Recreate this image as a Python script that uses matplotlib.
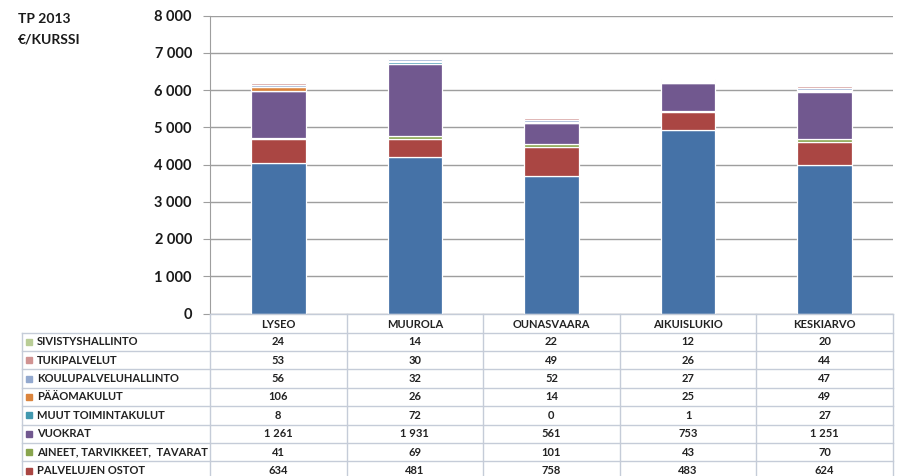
import matplotlib
matplotlib.use("Agg")
import matplotlib.pyplot as plt
import matplotlib.transforms as mtransforms
from matplotlib.patches import Rectangle
import numpy as np

plt.rcParams['font.family'] = ['Lato', 'DejaVu Sans']

categories = ["LYSEO", "MUUROLA", "OUNASVAARA", "AIKUISLUKIO", "KESKIARVO"]

# series listed bottom of stack first
henkilosto = [4040, 4210, 3700, 4920, 3990]
palvelujen_ostot = [634, 481, 758, 483, 624]
aineet = [41, 69, 101, 43, 70]
vuokrat = [1261, 1931, 561, 753, 1251]
muut_toiminta = [8, 72, 0, 1, 27]
paaomakulut = [106, 26, 14, 25, 49]
koulupalvelu = [56, 32, 52, 27, 47]
tukipalvelut = [53, 30, 49, 26, 44]
sivistys = [24, 14, 22, 12, 20]

series_names = ["HENKILÖSTÖKULUT", "PALVELUJEN OSTOT", "AINEET, TARVIKKEET,  TAVARAT",
                "VUOKRAT", "MUUT TOIMINTAKULUT", "PÄÄOMAKULUT",
                "KOULUPALVELUHALLINTO", "TUKIPALVELUT", "SIVISTYSHALLINTO"]
series_values = [henkilosto, palvelujen_ostot, aineet, vuokrat, muut_toiminta,
                 paaomakulut, koulupalvelu, tukipalvelut, sivistys]
series_colors = ["#4572A7", "#AA4643", "#89A54E", "#71588F", "#4198AF",
                 "#DB843D", "#93A9CF", "#D19392", "#B9CD96"]

yticks = [0, 1000, 2000, 3000, 4000, 5000, 6000, 7000, 8000]
ytick_labels = ["0", "1 000", "2 000", "3 000", "4 000", "5 000", "6 000", "7 000", "8 000"]

W, H = 898, 476
fig = plt.figure(figsize=(W / 100, H / 100), dpi=100)
fig.patch.set_facecolor("white")

ax_left, ax_right = 210, 893
ax_top, ax_bot = 15.5, 313.5
ax = fig.add_axes([ax_left / W, 1 - ax_bot / H, (ax_right - ax_left) / W, (ax_bot - ax_top) / H])

x = np.arange(len(categories))
bottom = np.zeros(len(categories))
for name, vals, col in zip(series_names, series_values, series_colors):
    v = np.array(vals, dtype=float)
    ax.bar(x, v, 0.4, bottom=bottom, color=col, edgecolor="white", linewidth=0.9,
           zorder=3, label=name)
    bottom += v

ax.set_xlim(-0.5, len(categories) - 0.5)
ax.set_ylim(0, 8000)
ax.set_yticks(yticks)
ax.set_yticklabels(ytick_labels, fontsize=10.5, fontweight="bold", color="#1a1a1a")
ax.set_xticks([])
ax.grid(axis="y", color="#9e9e9e", linewidth=1.0, zorder=0)
for s in ["top", "right", "bottom"]:
    ax.spines[s].set_visible(False)
ax.spines["left"].set_color("#9e9e9e")
ax.tick_params(axis="y", length=5, color="#9e9e9e", pad=8)

fig.text(18 / W, 1 - 19 / H, "TP 2013", fontsize=10, fontweight="bold", va="center", ha="left", color="#1a1a1a")
fig.text(18 / W, 1 - 39 / H, "€/KURSSI", fontsize=10, fontweight="bold", va="center", ha="left", color="#1a1a1a")

# table overlay in pixel coordinates
tab = fig.add_axes([0, 0, 1, 1], zorder=5)
tab.set_xlim(0, W)
tab.set_ylim(H, 0)
tab.axis("off")
tab.patch.set_alpha(0)
trans = mtransforms.blended_transform_factory(ax.transData, tab.transData)

line_col = "#c5ccd8"
header_top, header_bot = 313.5, 332.5
row_h = 18.4
table_left = 22
# rows shown in the visible part of the table (top of the stack first)
rows = list(zip(series_names, series_values, series_colors))[::-1][:8]
n_rows = len(rows)
table_bottom = header_bot + (n_rows + 1) * row_h

# vertical lines
col_edges = np.arange(len(categories) + 1) - 0.5
for ce in col_edges:
    tab.plot([ce, ce], [header_top, table_bottom], transform=trans, color=line_col, lw=1, clip_on=False)
tab.plot([table_left, table_left], [header_bot, table_bottom], color=line_col, lw=1, clip_on=False)
# horizontal lines
tab.plot([-0.5, len(categories) - 0.5], [header_top, header_top], transform=trans, color=line_col, lw=1)
for i in range(n_rows + 1):
    yy = header_bot + i * row_h
    tab.plot([table_left, ax_right], [yy, yy], color=line_col, lw=1, clip_on=False)

# header
for xi, cat in zip(x, categories):
    tab.text(xi, (header_top + header_bot) / 2 + 1, cat, transform=trans, ha="center", va="center",
             fontsize=8, fontweight="bold", color="#222222")

def fmt(v):
    return f"{v:,}".replace(",", " ")

for i, (name, vals, col) in enumerate(rows):
    yc = header_bot + (i + 0.5) * row_h
    tab.add_patch(Rectangle((26, yc - 3), 6, 6, color=col, clip_on=False))
    tab.text(37, yc, name, ha="left", va="center", fontsize=8, fontweight="bold", color="#222222")
    for xi, v in zip(x, vals):
        tab.text(xi, yc, fmt(v), transform=trans, ha="center", va="center",
                 fontsize=8, fontweight="bold", color="#222222")

fig.savefig("out.png", dpi=100)
